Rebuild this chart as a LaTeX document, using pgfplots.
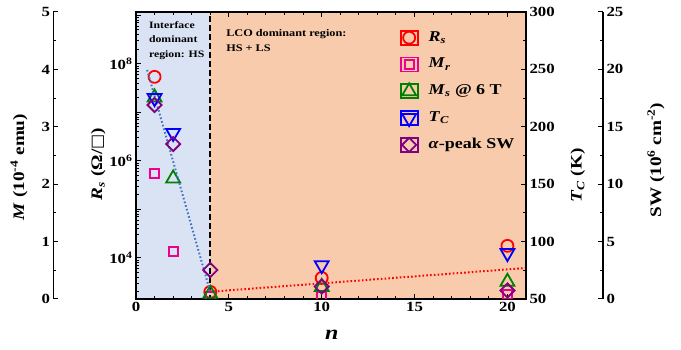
\documentclass[border=0pt]{standalone}
\usepackage{pgfplots}
\pgfplotsset{compat=1.18}
\usepackage{fontspec}
\setmainfont{Liberation Serif}[UprightFont=* Bold, ItalicFont=* Bold Italic, BoldFont=* Bold, BoldItalicFont=* Bold Italic, FakeStretch=1.2]
\newfontfamily\symfont{DejaVu Sans}
\definecolor{bgblue}{RGB}{218,227,243}
\definecolor{bgorange}{RGB}{248,203,173}
\definecolor{dotblue}{RGB}{68,114,196}
\definecolor{mypurple}{RGB}{128,0,128}
\definecolor{mygreen}{RGB}{0,128,0}
\pgfplotsset{
  base/.style={width=390pt, height=287pt, scale only axis, xmin=0, xmax=21,
    clip marker paths=true, tick align=inside, major tick length=5pt, minor tick length=3pt,
    tick style={black, line width=1pt}, axis line style={line width=1.2pt},
    ticklabel style={font=\fontsize{14}{14}\selectfont},
    /pgf/number format/assume math mode=true,
    label style={font=\fontsize{16}{16}\selectfont}},
  scale/.style={width=1pt, height=287pt, scale only axis, xmin=0, xmax=1,
    tick align=inside, major tick length=5pt, minor tick length=3pt,
    tick style={black, line width=1pt}, axis line style={line width=1.2pt},
    ticklabel style={font=\fontsize{14}{14}\selectfont},
    /pgf/number format/assume math mode=true,
    label style={font=\fontsize{16}{16}\selectfont}, hide x axis},
  rsm/.style={only marks, mark=o, red, mark size=6pt, line width=1.8pt},
  mrm/.style={only marks, mark=square, magenta, mark size=4.5pt, line width=1.8pt},
  msm/.style={only marks, mark=triangle, mygreen, mark size=8pt, line width=1.8pt},
  tcm/.style={only marks, mark=triangle, mark options={rotate=180}, blue, mark size=8pt, line width=1.8pt},
  swm/.style={only marks, mark=square, mark options={rotate=45}, mypurple, mark size=5pt, line width=1.8pt},
}
\begin{document}
\begin{tikzpicture}
\path[use as bounding box] (-136pt,-51pt) rectangle (545pt,299pt);
% main axis: Rs (log)
\begin{axis}[base, axis on top, ymode=log, ymin=1430, ymax=1.17e9,
  xtick={0,5,10,15,20}, minor x tick num=4, xtick pos=both, xticklabel pos=left,
  ytick={1e4,1e5,1e6,1e7,1e8,1e9},
  yticklabels={10\textsuperscript{4},,10\textsuperscript{6},,10\textsuperscript{8},},
  minor ytick={2e3,3e3,4e3,5e3,6e3,7e3,8e3,9e3,2e4,3e4,4e4,5e4,6e4,7e4,8e4,9e4,
    2e5,3e5,4e5,5e5,6e5,7e5,8e5,9e5,2e6,3e6,4e6,5e6,6e6,7e6,8e6,9e6,
    2e7,3e7,4e7,5e7,6e7,7e7,8e7,9e7,2e8,3e8,4e8,5e8,6e8,7e8,8e8,9e8},
  ytick pos=left,
  xlabel={\textit{n}},
  xlabel style={font=\fontsize{20}{20}\selectfont, at={(axis description cs:0.502,-0.125)}, anchor=center},
  ylabel={\textit{R}\textsubscript{\textit{s}} (Ω/{\symfont □})},
  ylabel style={at={(axis description cs:-0.097,0.47)}, anchor=center}]
\addplot[fill=bgblue, draw=none, forget plot] coordinates {(0,100) (4,100) (4,1e10) (0,1e10)} -- cycle;
\addplot[fill=bgorange, draw=none, forget plot] coordinates {(4,100) (22,100) (22,1e10) (4,1e10)} -- cycle;
\addplot[black, line width=1.8pt, dash pattern=on 6pt off 3pt, forget plot] coordinates {(4,100) (4,1e10)};
\addplot[red, line width=2pt, dash pattern=on 1.6pt off 2.2pt, forget plot] coordinates {(4,2020) (21,6220)};
\addplot[rsm] coordinates {(1,5.4e7) (4,2000) (10,3880) (20,17800)};
\node[anchor=north west, align=left, inner sep=0pt, font=\fontsize{9.8}{14.3}\selectfont] at (rel axis cs:0.033,0.967) {Interface\\dominant\\region: HS};
\node[anchor=north west, align=left, inner sep=0pt, font=\fontsize{10.2}{15}\selectfont] at (rel axis cs:0.231,0.941) {LCO dominant region:\\HS + LS};
\end{axis}
% M data overlay
\begin{axis}[base, ymin=0, ymax=5, hide axis]
\addplot[mrm] coordinates {(1,2.19) (2,0.83) (4,0.05) (10,0.05) (20,0.08)};
\addplot[msm] coordinates {(1,3.51) (2,2.10) (4,0.09) (10,0.21) (20,0.30)};
\end{axis}
% Tc axis (right)
\begin{axis}[base, ymin=50, ymax=300, hide x axis, axis y line*=right,
  ytick={50,100,...,300}, minor y tick num=1,
  ylabel={\textit{T}\textsubscript{\textit{C}} (K)},
  ylabel style={at={(axis description cs:1.133,0.43)}, anchor=center}]
\addplot[dotblue, line width=2pt, dash pattern=on 1.6pt off 2.2pt] coordinates {(0.6,249.5) (4,56)};
\addplot[tcm] coordinates {(1,225) (2,194.6) (10,79.4) (20,90)};
\end{axis}
% SW data overlay + legend
\begin{axis}[base, ymin=0, ymax=25, hide axis,
  legend style={at={(axis description cs:0.668,0.946)}, anchor=north west, draw=none, fill=none,
    font=\fontsize{15}{15}\selectfont, row sep=10.8pt, column sep=9pt,
    nodes={inner sep=1pt, text height=10.5pt, text depth=3.5pt}},
  legend cell align=left,
  legend image code/.code={\path (0cm,-7pt) rectangle (0.6cm,7pt);
    \draw[mark repeat=2,mark phase=2,#1] plot coordinates {(0cm,0cm) (0.3cm,0cm) (0.6cm,0cm)};}]
\addlegendimage{rsm}\addlegendentry{\textit{R}\textsubscript{\textit{s}}}
\addlegendimage{mrm}\addlegendentry{\textit{M}\textsubscript{\textit{r}}}
\addlegendimage{msm}\addlegendentry{\textit{M}\textsubscript{\textit{s}} @ 6 T}
\addlegendimage{tcm}\addlegendentry{\textit{T}\textsubscript{\textit{C}}}
\addlegendimage{swm}\addlegendentry{\textit{α}-peak SW}
\addplot[swm, forget plot] coordinates {(1,16.9) (2,13.5) (4,2.53) (10,1.09) (20,0.74)};
\end{axis}
% M scale (far left)
\begin{axis}[scale, at={(-82.5pt,0)}, ymin=0, ymax=5, axis y line*=left,
  ytick={0,1,...,5}, minor y tick num=1,
  ylabel={\textit{M} (10\textsuperscript{-4} emu)},
  ylabel style={at={(axis description cs:-34.5,0.46)}, anchor=center}]
\addplot[draw=none] coordinates {(0,0)};
\end{axis}
% SW scale (far right)
\begin{axis}[scale, at={(466pt,0)}, ymin=0, ymax=25, axis y line*=right,
  ytick={0,5,...,25}, minor y tick num=1,
  ylabel={SW (10\textsuperscript{6} cm\textsuperscript{-2})},
  ylabel style={at={(axis description cs:54,0.484)}, anchor=center}]
\addplot[draw=none] coordinates {(0,0)};
\end{axis}
\end{tikzpicture}
\end{document}
